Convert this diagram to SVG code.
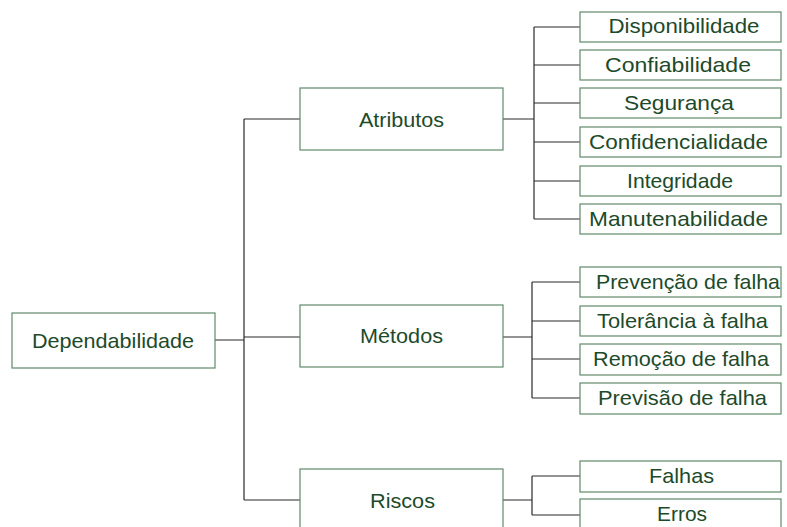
<svg xmlns="http://www.w3.org/2000/svg" width="787" height="527" viewBox="0 0 787 527">
<style>
.box{fill:#fff;stroke:#5f8a6a;stroke-width:1.2}
.t{font-family:"Liberation Sans",Arial,sans-serif;font-size:21px;fill:#1d4a2a;text-anchor:middle}
.c{stroke:#2a2a2a;stroke-width:1.2;fill:none}
</style>
<rect width="787" height="527" fill="#fff"/>
<g id="connectors">
<path class="c" d="M215 340H244M244 119V500M244 119H300M244 337H300M244 500H300"/>
<path class="c" d="M503 119H534M534 27V219M534 27H580M534 65H580M534 103H580M534 142H580M534 181H580M534 219H580"/>
<path class="c" d="M503 337H532M532 282V398M532 282H580M532 321H580M532 359H580M532 398H580"/>
<path class="c" d="M503 500H532M532 476V515M532 476H580M532 515H580"/>
</g>
<g id="n-dependabilidade"><rect class="box" x="12" y="313" width="203" height="55"/><text class="t" x="113" y="347.5" textLength="162" lengthAdjust="spacingAndGlyphs">Dependabilidade</text></g>
<g id="n-atributos"><rect class="box" x="300" y="88" width="203" height="62"/><text class="t" x="401.5" y="126.5" textLength="85" lengthAdjust="spacingAndGlyphs">Atributos</text></g>
<g id="n-metodos"><rect class="box" x="300" y="305" width="203" height="62"/><text class="t" x="401.5" y="343" textLength="83" lengthAdjust="spacingAndGlyphs">Métodos</text></g>
<g id="n-riscos"><rect class="box" x="300" y="469" width="203" height="62"/><text class="t" x="402.5" y="507.5" textLength="65" lengthAdjust="spacingAndGlyphs">Riscos</text></g>
<g id="n-disponibilidade"><rect class="box" x="580" y="12" width="201" height="30"/><text class="t" x="684" y="33" textLength="151" lengthAdjust="spacingAndGlyphs">Disponibilidade</text></g>
<g id="n-confiabilidade"><rect class="box" x="580" y="50" width="201" height="30"/><text class="t" x="678" y="71.5" textLength="146" lengthAdjust="spacingAndGlyphs">Confiabilidade</text></g>
<g id="n-seguranca"><rect class="box" x="580" y="88" width="201" height="30"/><text class="t" x="679" y="110" textLength="110" lengthAdjust="spacingAndGlyphs">Segurança</text></g>
<g id="n-confidencialidade"><rect class="box" x="580" y="127" width="201" height="30"/><text class="t" x="678.5" y="148.5" textLength="179" lengthAdjust="spacingAndGlyphs">Confidencialidade</text></g>
<g id="n-integridade"><rect class="box" x="580" y="166" width="201" height="30"/><text class="t" x="680" y="187.5" textLength="106" lengthAdjust="spacingAndGlyphs">Integridade</text></g>
<g id="n-manutenabilidade"><rect class="box" x="580" y="204" width="201" height="30"/><text class="t" x="678.5" y="225.5" textLength="179" lengthAdjust="spacingAndGlyphs">Manutenabilidade</text></g>
<g id="n-prevencao"><rect class="box" x="580" y="267" width="201" height="30"/><text class="t" x="688" y="288.5" textLength="184" lengthAdjust="spacingAndGlyphs">Prevenção de falha</text></g>
<g id="n-tolerancia"><rect class="box" x="580" y="306" width="201" height="30"/><text class="t" x="682.5" y="327.5" textLength="171" lengthAdjust="spacingAndGlyphs">Tolerância à falha</text></g>
<g id="n-remocao"><rect class="box" x="580" y="344" width="201" height="31"/><text class="t" x="681" y="366" textLength="176" lengthAdjust="spacingAndGlyphs">Remoção de falha</text></g>
<g id="n-previsao"><rect class="box" x="580" y="383" width="201" height="31"/><text class="t" x="682.5" y="405" textLength="169" lengthAdjust="spacingAndGlyphs">Previsão de falha</text></g>
<g id="n-falhas"><rect class="box" x="580" y="461" width="201" height="31"/><text class="t" x="681.5" y="483" textLength="65" lengthAdjust="spacingAndGlyphs">Falhas</text></g>
<g id="n-erros"><rect class="box" x="580" y="499" width="201" height="32"/><text class="t" x="682" y="521" textLength="50" lengthAdjust="spacingAndGlyphs">Erros</text></g>
</svg>
